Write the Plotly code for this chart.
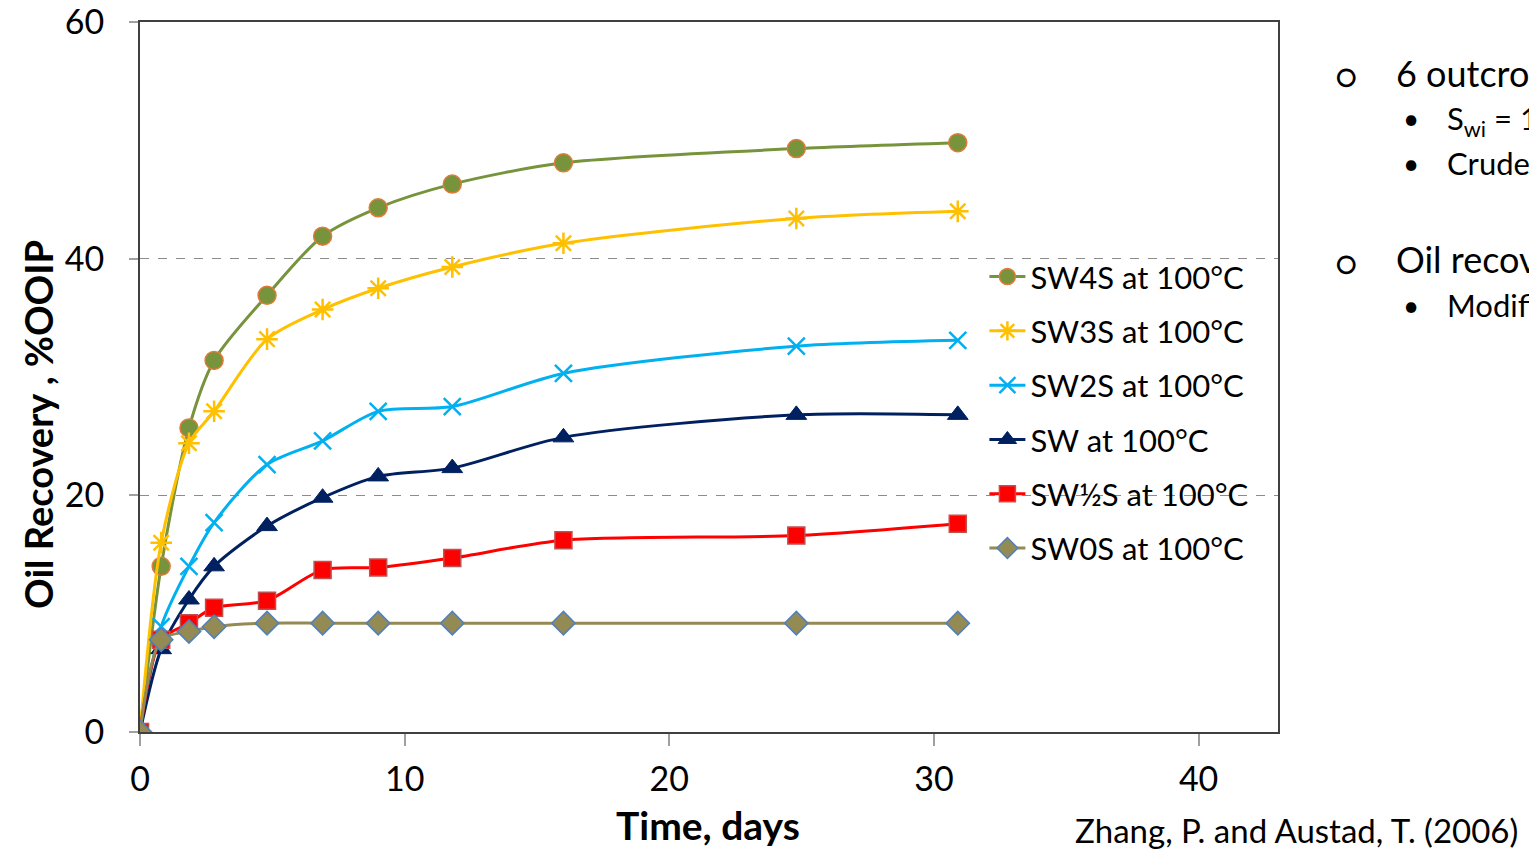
import plotly.graph_objects as go

time_days = [0, 0.8, 1.85, 2.8, 4.8, 6.9, 9.0, 11.8, 16.0, 24.8, 30.9]

sw4s = [0, 14.0, 25.7, 31.4, 36.9, 41.9, 44.3, 46.3, 48.1, 49.3, 49.8]
sw3s = [0, 16.0, 24.4, 27.1, 33.2, 35.7, 37.5, 39.3, 41.3, 43.4, 44.0]
sw2s = [0, 8.9, 14.0, 17.7, 22.6, 24.6, 27.1, 27.5, 30.3, 32.6, 33.1]
sw = [0, 7.0, 11.2, 14.0, 17.4, 19.8, 21.6, 22.3, 24.9, 26.8, 26.8]
sw_half_s = [0, 7.8, 9.2, 10.5, 11.1, 13.7, 13.9, 14.7, 16.2, 16.6, 17.6]
sw0s = [0, 7.8, 8.5, 8.9, 9.2, 9.2, 9.2, 9.2, 9.2, 9.2, 9.2]

series_names = ["SW4S at 100°C", "SW3S at 100°C", "SW2S at 100°C",
                "SW at 100°C", "SW½S at 100°C", "SW0S at 100°C"]
series_values = [sw4s, sw3s, sw2s, sw, sw_half_s, sw0s]

x_ticks = [0, 10, 20, 30, 40]
y_ticks = [0, 20, 40, 60]

styles = [
    dict(line="#77933C", symbol="circle", fill="#77933C", edge="#E07B39", size=18, ew=1.5),
    dict(line="#FFC000", symbol="asterisk-open", fill="#FFC000", edge="#FFC000", size=18, ew=2.5),
    dict(line="#00B0F0", symbol="x-thin-open", fill="#00B0F0", edge="#00B0F0", size=17, ew=2.5),
    dict(line="#002060", symbol="triangle-up", fill="#002060", edge="#002060", size=18, ew=1),
    dict(line="#FF0000", symbol="square", fill="#FF0000", edge="#C0504D", size=17, ew=1.5),
    dict(line="#948A54", symbol="diamond", fill="#948A54", edge="#4F81BD", size=18, ew=1.5),
]

fig = go.Figure()
for i, (name, vals, st) in enumerate(zip(series_names, series_values, styles)):
    fig.add_trace(go.Scatter(
        x=time_days, y=vals, name=name, mode="lines+markers",
        legendgroup=f"g{i}",
        line=dict(color=st["line"], width=3, shape="spline", smoothing=0.8),
        marker=dict(symbol=st["symbol"], size=st["size"], color=st["fill"],
                    line=dict(color=st["edge"], width=st["ew"])),
    ))

font = "Lato, Carlito, Calibri, sans-serif"

# page body has an 8px offset; margins compensate so the plot area sits at
# x 140..1278, y 22..732 in the window
fig.update_layout(
    width=1537, height=852,
    margin=dict(l=132, r=267, t=14, b=128),
    paper_bgcolor="white", plot_bgcolor="white",
    font=dict(family=font, color="black"),
    showlegend=True,
    legend=dict(x=0.742, y=0.679, xanchor="left", yanchor="top",
                bgcolor="rgba(0,0,0,0)", font=dict(size=31, family=font),
                itemwidth=36, tracegroupgap=11, traceorder="grouped"),
    xaxis=dict(range=[0, 43], tickvals=x_ticks, showgrid=False, zeroline=False,
               showline=True, linecolor="#404040", linewidth=2, mirror=True,
               ticks="outside", ticklen=12, tickcolor="#A0A0A0", tickwidth=1.5,
               tickfont=dict(size=34, family=font), ticklabelstandoff=4,
               automargin=False, ticklabeloverflow="allow"),
    yaxis=dict(range=[0, 60], tickvals=y_ticks, showgrid=True, gridcolor="#8C8C8C",
               griddash="dash", gridwidth=1.2, zeroline=False,
               showline=True, linecolor="#404040", linewidth=2, mirror=True,
               ticks="outside", ticklen=9, tickcolor="#A0A0A0", tickwidth=1.5,
               tickfont=dict(size=34, family=font), ticklabelstandoff=18,
               automargin=False, ticklabeloverflow="allow"),
)

annotations = [
    dict(text="<b>Time, days</b>", x=708, y=825, size=39),
    dict(text="<b>Oil Recovery , %OOIP</b>", x=38, y=425, size=38, angle=-90),
]
for a in annotations:
    fig.add_annotation(text=a["text"], xref="paper", yref="paper",
                       x=(a["x"] - 140) / 1138, y=(732 - a["y"]) / 710,
                       xanchor="center", yanchor="middle", showarrow=False,
                       textangle=a.get("angle", 0),
                       font=dict(size=a["size"], family=font, color="black"))

side_text = [
    ("○", 1346, 75, 34, "center"),
    ("6 outcrop chalk cores", 1394, 73, 36, "left"),
    ("•", 1411, 118, 28, "center"),
    ("S<sub>wi</sub> = 10%", 1445, 120, 31, "left"),
    ("•", 1411, 163, 28, "center"),
    ("Crude oil", 1445, 163, 31, "left"),
    ("○", 1346, 262, 34, "center"),
    ("Oil recovery by imbibition", 1394, 259, 36, "left"),
    ("•", 1411, 305, 28, "center"),
    ("Modified seawater", 1445, 305, 31, "left"),
    ("Zhang, P. and Austad, T. (2006)", 1073, 830, 33, "left"),
]
for txt, px, py, sz, anc in side_text:
    fig.add_annotation(text=txt, xref="paper", yref="paper",
                       x=(px - 140) / 1138, y=(732 - py) / 710,
                       xanchor=anc, yanchor="middle", showarrow=False,
                       font=dict(size=sz, family=font, color="black"))

fig.write_html("out.html")
